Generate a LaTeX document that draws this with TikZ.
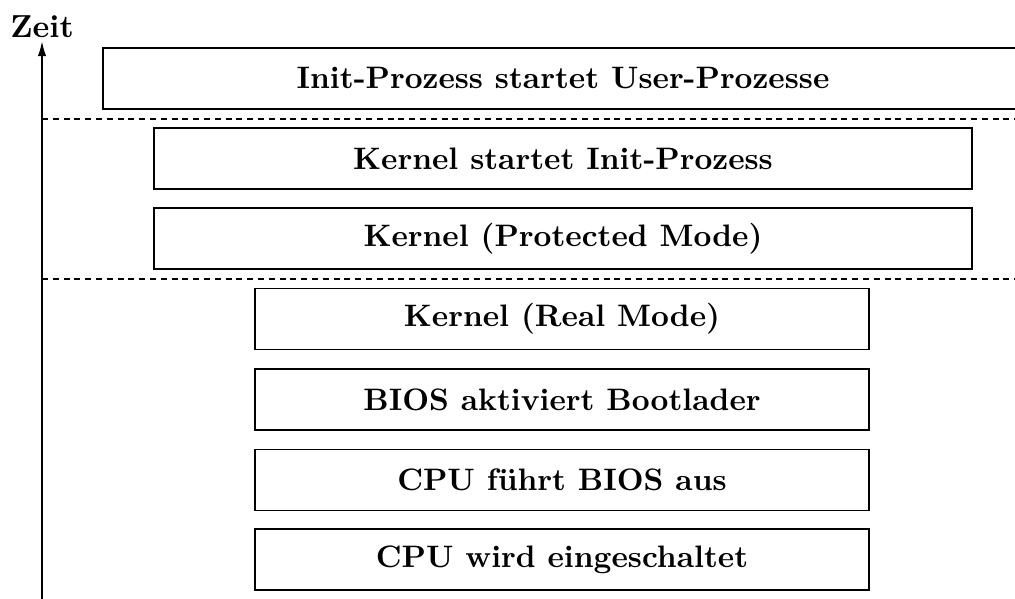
\documentclass[tikz,border=0pt]{standalone}
\usetikzlibrary{arrows.meta}
\begin{document}
\begin{tikzpicture}[x=0.3333pt,y=-0.3333pt,
  stage/.style={draw,line width=0.45pt,minimum height=61*0.3333pt,inner sep=0pt,
    font=\fontsize{10.35pt}{12pt}\selectfont\bfseries},
  sep/.style={line width=0.7pt,dash pattern=on 2pt off 1.6pt},
  axis/.style={line width=0.6pt,-{Latex[length=5pt,width=2.8pt]}}]
\useasboundingbox (0,0) rectangle (1015,598);
\clip (0,0) rectangle (1015,598);
\node[stage,minimum width=920*0.3333pt] (s7) at (563,78.5) {Init-Prozess startet User-Prozesse};
\node[stage,minimum width=818*0.3333pt] (s6) at (563,158.5) {Kernel startet Init-Prozess};
\node[stage,minimum width=818*0.3333pt] (s5) at (563,238.5) {Kernel (Protected Mode)};
\node[stage,minimum width=614*0.3333pt] (s4) at (562,319) {Kernel (Real Mode)};
\node[stage,minimum width=614*0.3333pt] (s3) at (562,399.5) {BIOS aktiviert Bootlader};
\node[stage,minimum width=614*0.3333pt] (s2) at (562,480) {CPU f\"uhrt BIOS aus};
\node[stage,minimum width=614*0.3333pt] (s1) at (562,559.5) {CPU wird eingeschaltet};
\coordinate (a0) at (42,600);
\coordinate (a1) at (42,41);
\draw[axis] (a0) -- (a1);
\node[anchor=south,inner sep=1pt,font=\fontsize{10.6pt}{12pt}\selectfont\bfseries] (zeit) at (a1) {Zeit};
\coordinate (d1l) at (42,119);
\coordinate (d1r) at (1015,119);
\coordinate (d2l) at (42,279);
\coordinate (d2r) at (1015,279);
\draw[sep] (d1l) -- (d1r);
\draw[sep] (d2l) -- (d2r);
\end{tikzpicture}
\end{document}
